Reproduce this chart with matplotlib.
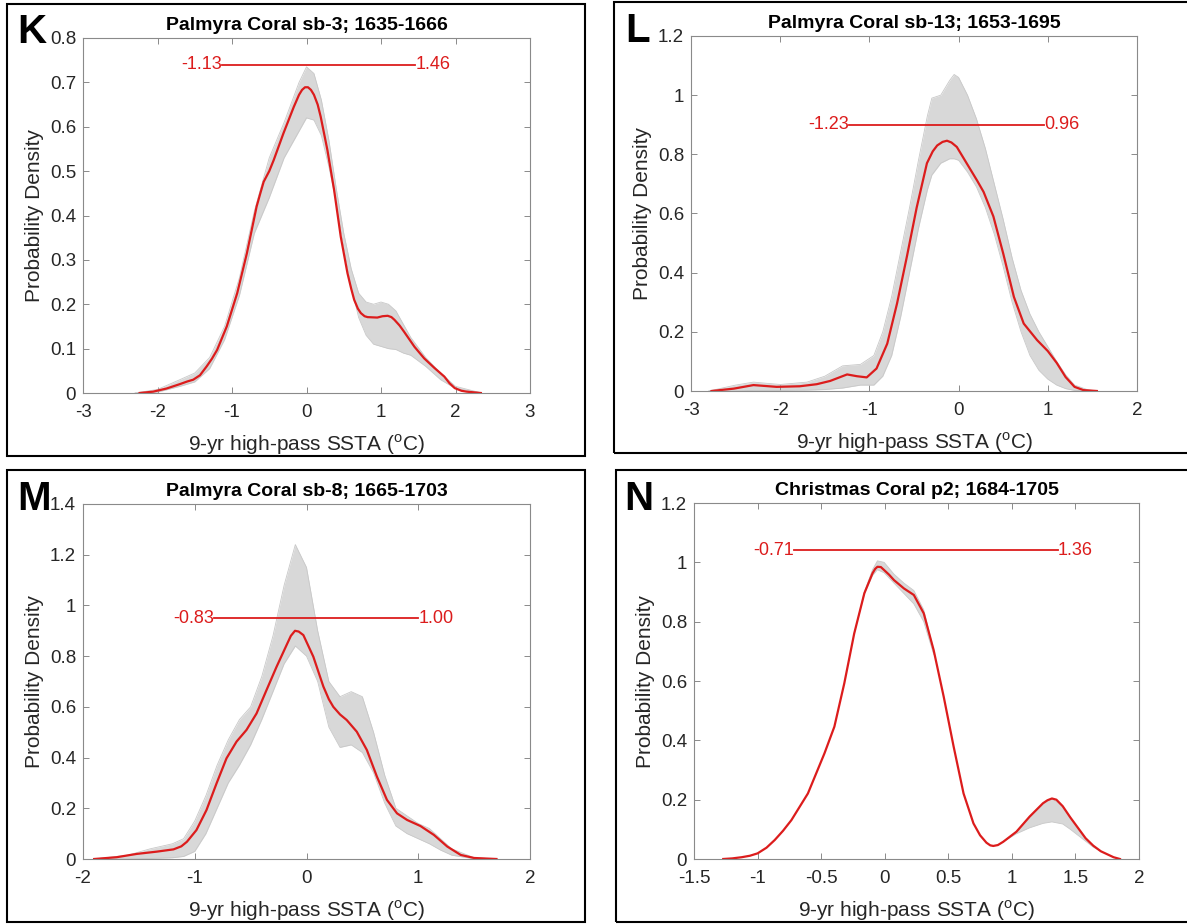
import numpy as np
import matplotlib.pyplot as plt
from matplotlib.patches import Rectangle

plt.rcParams['font.family'] = ['Liberation Sans', 'DejaVu Sans']
plt.rcParams['mathtext.fontset'] = 'custom'
plt.rcParams['mathtext.rm'] = 'Liberation Sans'

W, H = 1187, 924
RED = '#dc1c1c'
GRAY_FILL = '#d8d8d8'
GRAY_EDGE = '#c8c8c8'
TXT = '#262626'
XLABEL = '9-yr high-pass SSTA ($^{\\mathrm{o}}$C)'
YLABEL = 'Probability Density'

# ---- panel K ----
k_title = 'Palmyra Coral sb-3; 1635-1666'
k_x = [-2.24, -2.06, -1.88, -1.70, -1.60, -1.52, -1.43, -1.34, -1.27, -1.20, -1.07, -0.93,
       -0.80, -0.67, -0.62, -0.575, -0.50, -0.44, -0.31, -0.17, -0.10, -0.06, -0.02, 0.02,
       0.06, 0.10, 0.15, 0.19, 0.28, 0.37, 0.46, 0.55, 0.60, 0.64, 0.69, 0.73, 0.78, 0.82,
       0.95, 1.02, 1.09, 1.14, 1.18, 1.25, 1.31, 1.45, 1.58, 1.72, 1.85, 1.92, 1.99, 2.08,
       2.15, 2.34]
k_red = [0, 0.003, 0.01, 0.02, 0.026, 0.03, 0.04, 0.06, 0.077, 0.097, 0.15, 0.225,
         0.315, 0.42, 0.45, 0.476, 0.50, 0.525, 0.585, 0.645, 0.672, 0.683, 0.689, 0.689,
         0.683, 0.672, 0.65, 0.623, 0.548, 0.458, 0.352, 0.27, 0.235, 0.21, 0.19, 0.18, 0.173, 0.171,
         0.17, 0.173, 0.174, 0.171, 0.165, 0.152, 0.138, 0.104, 0.078, 0.056, 0.037, 0.022, 0.011, 0.005,
         0.003, 0]
k_gx = [-2.3, -2.0, -1.7, -1.5, -1.3, -1.1, -0.9, -0.7, -0.5, -0.3, -0.1, 0.0, 0.1, 0.2, 0.3,
        0.4, 0.5, 0.6, 0.7, 0.8, 0.9, 1.0, 1.1, 1.2, 1.3, 1.4, 1.6, 1.8, 2.0, 2.35]
k_hi = [0, 0.008, 0.03, 0.045, 0.08, 0.15, 0.26, 0.41, 0.53, 0.61, 0.70, 0.735, 0.72, 0.66, 0.57,
        0.46, 0.36, 0.28, 0.225, 0.205, 0.20, 0.205, 0.20, 0.185, 0.155, 0.125, 0.08, 0.045, 0.015, 0]
k_lo = [0, 0.002, 0.015, 0.025, 0.055, 0.12, 0.22, 0.36, 0.44, 0.53, 0.59, 0.62, 0.615, 0.58, 0.51,
        0.43, 0.33, 0.24, 0.17, 0.13, 0.11, 0.105, 0.10, 0.098, 0.09, 0.085, 0.06, 0.03, 0.01, 0]
k_range = [-1.13, 1.46]
k_range_y = 0.74
k_xticks = [-3, -2, -1, 0, 1, 2, 3]
k_xticklabels = ['-3', '-2', '-1', '0', '1', '2', '3']
k_yticks = [0, 0.1, 0.2, 0.3, 0.4, 0.5, 0.6, 0.7, 0.8]
k_yticklabels = ['0', '0.1', '0.2', '0.3', '0.4', '0.5', '0.6', '0.7', '0.8']

# ---- panel L ----
l_title = 'Palmyra Coral sb-13; 1653-1695'
l_x = [-2.77, -2.52, -2.30, -2.04, -1.78, -1.59, -1.44, -1.25, -1.14, -1.03, -0.92, -0.80,
       -0.69, -0.58, -0.47, -0.355, -0.29, -0.24, -0.18, -0.13, -0.08, -0.02, 0.09, 0.21, 0.28,
       0.39, 0.50, 0.62, 0.73, 0.88, 1.0, 1.1, 1.2, 1.3, 1.4, 1.55]
l_red = [0, 0.008, 0.02, 0.014, 0.016, 0.023, 0.034, 0.056, 0.05, 0.046, 0.076, 0.16,
         0.296, 0.454, 0.62, 0.77, 0.81, 0.83, 0.842, 0.846, 0.84, 0.825, 0.77, 0.71, 0.673,
         0.59, 0.465, 0.318, 0.228, 0.172, 0.135, 0.095, 0.047, 0.014, 0.003, 0]
l_gx = [-2.8, -2.5, -2.3, -2.0, -1.7, -1.5, -1.3, -1.1, -0.95, -0.85, -0.75, -0.65, -0.55, -0.45,
        -0.35, -0.3, -0.2, -0.1, -0.05, 0.0, 0.1, 0.2, 0.3, 0.4, 0.5, 0.6, 0.7, 0.8, 0.9, 1.0,
        1.1, 1.2, 1.3, 1.45, 1.55]
l_hi = [0, 0.02, 0.03, 0.022, 0.03, 0.05, 0.085, 0.09, 0.12, 0.2, 0.32, 0.47, 0.62, 0.78,
        0.93, 0.99, 1.0, 1.05, 1.07, 1.06, 1.0, 0.92, 0.82, 0.70, 0.58, 0.45, 0.34, 0.26, 0.20, 0.15,
        0.10, 0.055, 0.02, 0.004, 0]
l_lo = [0, 0, 0.002, 0.002, 0.003, 0.005, 0.01, 0.02, 0.02, 0.05, 0.12, 0.25, 0.40, 0.55,
        0.68, 0.73, 0.77, 0.785, 0.785, 0.78, 0.74, 0.69, 0.62, 0.53, 0.42, 0.30, 0.20, 0.12, 0.07, 0.04,
        0.02, 0.008, 0.002, 0, 0]
l_range = [-1.23, 0.96]
l_range_y = 0.9
l_xticks = [-3, -2, -1, 0, 1, 2]
l_xticklabels = ['-3', '-2', '-1', '0', '1', '2']
l_yticks = [0, 0.2, 0.4, 0.6, 0.8, 1.0, 1.2]
l_yticklabels = ['0', '0.2', '0.4', '0.6', '0.8', '1', '1.2']

# ---- panel M ----
m_title = 'Palmyra Coral sb-8; 1665-1703'
m_x = [-1.90, -1.70, -1.52, -1.34, -1.19, -1.12, -1.07, -0.985, -0.895, -0.805, -0.716, -0.626,
       -0.537, -0.447, -0.358, -0.268, -0.178, -0.14, -0.103, -0.07, -0.028, 0.061, 0.151, 0.20,
       0.24, 0.30, 0.36, 0.45, 0.54, 0.63, 0.72, 0.81, 0.90, 1.02, 1.14, 1.26, 1.38, 1.5, 1.7]
m_red = [0, 0.007, 0.02, 0.029, 0.038, 0.05, 0.068, 0.114, 0.193, 0.298, 0.397, 0.463,
         0.509, 0.574, 0.666, 0.758, 0.844, 0.88, 0.90, 0.897, 0.883, 0.798, 0.68, 0.63,
         0.60, 0.57, 0.548, 0.502, 0.43, 0.325, 0.233, 0.18, 0.154, 0.13, 0.095, 0.049, 0.016, 0.004, 0]
m_gx = [-1.9, -1.6, -1.4, -1.2, -1.1, -1.0, -0.9, -0.8, -0.7, -0.6, -0.5, -0.4, -0.3, -0.2, -0.1,
        0.0, 0.1, 0.2, 0.3, 0.4, 0.5, 0.6, 0.7, 0.8, 0.9, 1.0, 1.1, 1.2, 1.3, 1.5, 1.7]
m_hi = [0, 0.015, 0.04, 0.06, 0.08, 0.15, 0.25, 0.37, 0.47, 0.55, 0.60, 0.72, 0.88, 1.08, 1.24,
        1.15, 0.90, 0.70, 0.64, 0.66, 0.64, 0.50, 0.33, 0.20, 0.17, 0.14, 0.12, 0.08, 0.04, 0.005, 0]
m_lo = [0, 0, 0.002, 0.005, 0.01, 0.03, 0.10, 0.20, 0.30, 0.37, 0.45, 0.55, 0.66, 0.77, 0.84,
        0.80, 0.70, 0.52, 0.44, 0.45, 0.42, 0.34, 0.22, 0.13, 0.10, 0.08, 0.06, 0.035, 0.015, 0.001, 0]
m_range = [-0.83, 1.00]
m_range_y = 0.95
m_xticks = [-2, -1, 0, 1, 2]
m_xticklabels = ['-2', '-1', '0', '1', '2']
m_yticks = [0, 0.2, 0.4, 0.6, 0.8, 1.0, 1.2, 1.4]
m_yticklabels = ['0', '0.2', '0.4', '0.6', '0.8', '1', '1.2', '1.4']

# ---- panel N ----
n_title = 'Christmas Coral p2; 1684-1705'
n_x = [-1.27, -1.2, -1.125, -1.06, -1.0, -0.93, -0.865, -0.8, -0.734, -0.604, -0.474, -0.396,
       -0.318, -0.24, -0.16, -0.096, -0.075, -0.057, -0.03, -0.005, 0.035, 0.073, 0.151, 0.229,
       0.307, 0.385, 0.464, 0.542, 0.62, 0.698, 0.75, 0.8, 0.83, 0.854, 0.89, 0.932, 1.036, 1.14,
       1.245, 1.28, 1.315, 1.35, 1.40, 1.46, 1.52, 1.58, 1.64, 1.7, 1.8, 1.85]
n_red = [0, 0.002, 0.006, 0.011, 0.019, 0.038, 0.064, 0.095, 0.131, 0.221, 0.356, 0.446,
         0.592, 0.76, 0.896, 0.963, 0.978, 0.985, 0.984, 0.974, 0.958, 0.94, 0.912, 0.89,
         0.828, 0.704, 0.547, 0.379, 0.221, 0.12, 0.08, 0.055, 0.046, 0.044, 0.047, 0.058, 0.092, 0.143,
         0.188, 0.198, 0.204, 0.2, 0.178, 0.14, 0.105, 0.07, 0.045, 0.026, 0.006, 0]
# gray members only part from the red curve near the main peak and the warm bump
n_gx = [-0.24, -0.16, -0.096, -0.057, -0.005, 0.073, 0.151, 0.229, 0.307, 0.385, np.nan,
        0.932, 1.036, 1.14, 1.245, 1.315, 1.40, 1.46, 1.52, 1.58, 1.64, 1.7]
n_hi = [0.76, 0.90, 0.975, 1.005, 1.0, 0.96, 0.93, 0.905, 0.84, 0.704, np.nan,
        0.058, 0.092, 0.143, 0.188, 0.204, 0.178, 0.14, 0.105, 0.07, 0.045, 0.026]
n_lo = [0.76, 0.893, 0.955, 0.975, 0.965, 0.93, 0.895, 0.86, 0.80, 0.69, np.nan,
        0.058, 0.085, 0.105, 0.12, 0.125, 0.118, 0.10, 0.08, 0.06, 0.04, 0.026]
n_range = [-0.71, 1.36]
n_range_y = 1.04
n_xticks = [-1.5, -1, -0.5, 0, 0.5, 1, 1.5, 2]
n_xticklabels = ['-1.5', '-1', '-0.5', '0', '0.5', '1', '1.5', '2']
n_yticks = [0, 0.2, 0.4, 0.6, 0.8, 1.0, 1.2]
n_yticklabels = ['0', '0.2', '0.4', '0.6', '0.8', '1', '1.2']


def px_rect(x0, y0, x1, y1):
    # pixel box (top-left origin) -> figure fraction [left, bottom, width, height]
    return [x0 / W, 1 - y1 / H, (x1 - x0) / W, (y1 - y0) / H]


def panel(fig, ax_px, box_px, letter, letter_px, title, x, red, gx, hi, lo,
          rng, rng_y, xticks, xtl, yticks, ytl):
    bx = px_rect(*box_px)
    fig.add_artist(Rectangle((bx[0], bx[1]), bx[2], bx[3], transform=fig.transFigure,
                             fill=False, ec='black', lw=1.5))
    fig.text(letter_px[0] / W, 1 - letter_px[1] / H, letter, fontsize=29,
             fontweight='bold', va='baseline', ha='left')

    ax = fig.add_axes(px_rect(*ax_px))
    ax.fill_between(gx, lo, hi, color=GRAY_FILL, lw=0)
    ax.plot(gx, hi, color=GRAY_EDGE, lw=0.6)
    ax.plot(gx, lo, color=GRAY_EDGE, lw=0.6)
    ax.plot(x, red, color=RED, lw=1.6)

    ax.plot(rng, [rng_y, rng_y], color=RED, lw=1.3)
    ax.text(rng[0], rng_y, f'{rng[0]:.2f}', color=RED, fontsize=13, ha='right', va='center')
    ax.text(rng[1], rng_y, f'{rng[1]:.2f}', color=RED, fontsize=13, ha='left', va='center')

    ax.set_xlim(xticks[0], xticks[-1])
    ax.set_ylim(yticks[0], yticks[-1])
    ax.set_xticks(xticks)
    ax.set_xticklabels(xtl)
    ax.set_yticks(yticks)
    ax.set_yticklabels(ytl)
    ax.tick_params(direction='in', top=True, right=True, length=4, width=0.7,
                   color='#8a8a8a', labelcolor=TXT, labelsize=13.5)
    ax.tick_params(axis='x', pad=8)
    ax.tick_params(axis='y', pad=5)
    for s in ax.spines.values():
        s.set_color('#8a8a8a')
        s.set_linewidth(0.8)
    ax.set_title(title, fontsize=14, fontweight='bold', pad=6)
    ax.set_xlabel(XLABEL, fontsize=15, color=TXT, labelpad=8)
    ax.set_ylabel(YLABEL, fontsize=15, color=TXT)
    ax.yaxis.set_label_coords(-0.087, 0.5)
    return ax


fig = plt.figure(figsize=(W / 100, H / 100), dpi=100)

panel(fig, (83, 38, 530, 393), (7, 4, 585, 456), 'K', (17, 43), k_title,
      k_x, k_red, k_gx, k_hi, k_lo, k_range, k_range_y,
      k_xticks, k_xticklabels, k_yticks, k_yticklabels)
panel(fig, (691, 36, 1137, 391), (614, 2, 1195, 453), 'L', (625, 42), l_title,
      l_x, l_red, l_gx, l_hi, l_lo, l_range, l_range_y,
      l_xticks, l_xticklabels, l_yticks, l_yticklabels)
panel(fig, (83, 504, 530, 859), (7, 470, 585, 922), 'M', (17, 510), m_title,
      m_x, m_red, m_gx, m_hi, m_lo, m_range, m_range_y,
      m_xticks, m_xticklabels, m_yticks, m_yticklabels)
panel(fig, (694, 503, 1139, 859), (616, 470, 1195, 922), 'N', (624, 510), n_title,
      n_x, n_red, n_gx, n_hi, n_lo, n_range, n_range_y,
      n_xticks, n_xticklabels, n_yticks, n_yticklabels)

fig.savefig('out.png', dpi=100)
